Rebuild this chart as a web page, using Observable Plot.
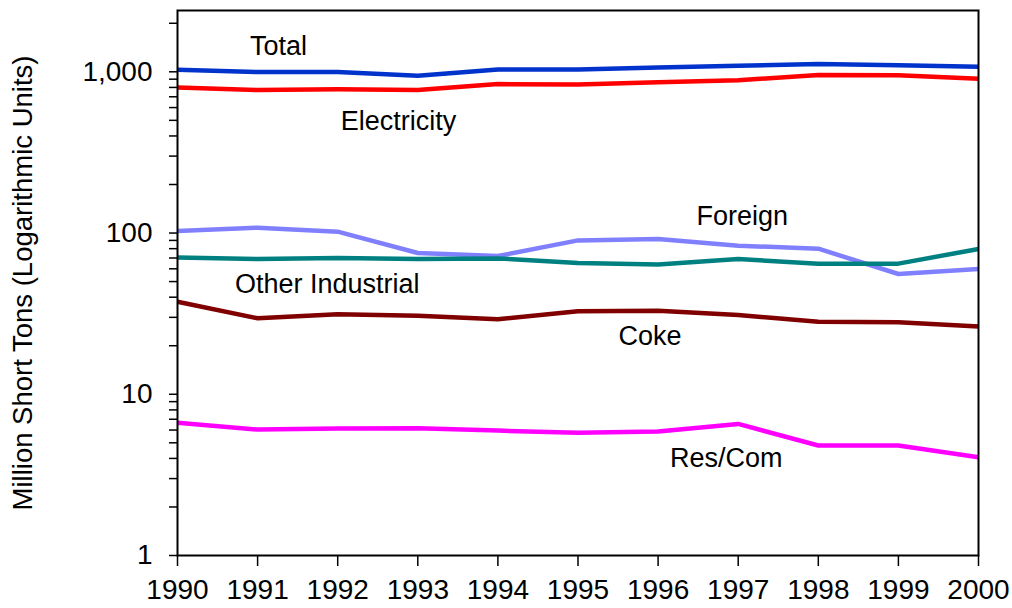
<!DOCTYPE html>
<html>
<head>
<meta charset="utf-8">
<script src="https://cdn.jsdelivr.net/npm/d3@7"></script>
<script src="https://cdn.jsdelivr.net/npm/@observablehq/plot@0.6"></script>
<style>
  html, body { margin: 0; padding: 0; background: #fff; }
  #chart svg { display: block; }
</style>
</head>
<body>
<div id="chart"></div>
<script>
// U.S. coal by sector, 1990–2000 (million short tons)
const years = [1990, 1991, 1992, 1993, 1994, 1995, 1996, 1997, 1998, 1999, 2000];
const total = [1029, 996, 998, 945, 1034, 1033, 1064, 1090, 1118, 1100, 1074];
const electricity = [800, 771, 779, 771, 839, 833, 861, 886, 955, 952, 905];
const foreign = [103, 108, 102, 75.2, 72, 90, 91.8, 83.5, 80, 55.7, 59.9];
const otherIndustrial = [70.6, 68.9, 69.9, 69, 69.6, 65.1, 63.8, 69, 64.6, 64.6, 79.6];
const coke = [37.5, 29.6, 31.3, 30.7, 29.2, 32.7, 33.0, 31.0, 28.2, 28.0, 26.3];
const resCom = [6.65, 6.04, 6.13, 6.15, 5.95, 5.77, 5.87, 6.55, 4.81, 4.81, 4.07];

const seriesNames = ["Total", "Electricity", "Foreign", "Other Industrial", "Coke", "Res/Com"];
const seriesValues = [total, electricity, foreign, otherIndustrial, coke, resCom];
const seriesColors = ["#0033cc", "#ff0000", "#8080ff", "#008080", "#800000", "#ff00ff"];

// Where each series name is written, in data units
const labelYears = [1991.26, 1992.76, 1997.05, 1991.87, 1995.9, 1996.85];
const labelValues = [1430, 490, 126, 47.8, 22.8, 3.99];

// Axis ticks
const yMajorTicks = [1, 10, 100, 1000];
const yMinorTicks = [2, 3, 4, 5, 6, 7, 8, 9, 20, 30, 40, 50, 60, 70, 80, 90,
                     200, 300, 400, 500, 600, 700, 800, 900, 2000];
const yDomain = [1, 2400];
const yTitle = "Million Short Tons (Logarithmic Units)";

const rows = seriesNames.flatMap((name, i) =>
  years.map((year, j) => ({series: name, year, value: seriesValues[i][j]})));
const labels = seriesNames.map((name, i) => ({series: name, year: labelYears[i], value: labelValues[i]}));

const font = "'Liberation Sans', Arial, Helvetica, sans-serif";

const chart = Plot.plot({
  width: 1012,
  height: 608,
  marginLeft: 177,
  marginRight: 34,
  marginTop: 10,
  marginBottom: 53,
  style: {fontFamily: font, fontSize: "27px", color: "#000", background: "#fff"},
  x: {domain: [1990, 2000]},
  y: {type: "log", domain: yDomain},
  color: {domain: seriesNames, range: seriesColors},
  marks: [
    Plot.axisY({ticks: yMinorTicks, tickSize: 8, tickFormat: () => "", strokeWidth: 1.5, label: null}),
    Plot.axisY({ticks: yMajorTicks, tickSize: 8, tickPadding: 17, tickFormat: d3.format(","),
                fontSize: 28, strokeWidth: 1.5, label: null}),
    Plot.axisX({ticks: years, tickSize: 11, tickPadding: 13, tickFormat: d => String(d),
                fontSize: 28, strokeWidth: 1.5, label: null}),
    Plot.text([yTitle], {frameAnchor: "left", textAnchor: "middle", rotate: -90, dx: -154,
                         fontSize: 27.5, fill: "#000"}),
    Plot.line(rows, {x: "year", y: "value", z: "series", stroke: "series",
                     strokeWidth: 4.5, strokeLinejoin: "round", strokeLinecap: "butt"}),
    Plot.frame({stroke: "#000", strokeWidth: 2}),
    Plot.text(labels, {x: "year", y: "value", text: "series", fontSize: 27, fill: "#000"})
  ]
});

document.getElementById("chart").appendChild(chart);
</script>
</body>
</html>
